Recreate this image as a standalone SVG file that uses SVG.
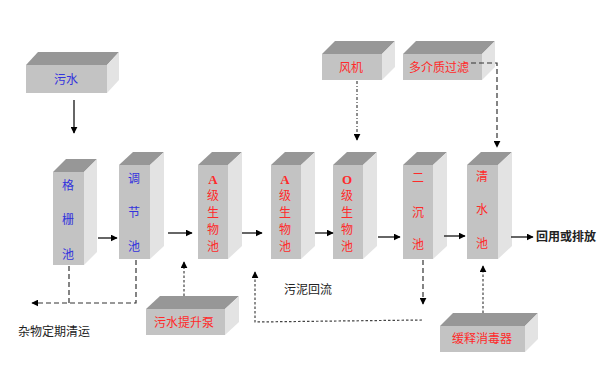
<svg xmlns="http://www.w3.org/2000/svg" width="600" height="379" viewBox="0 0 600 379">
<defs>
<marker id="ah" viewBox="0 0 10 10" refX="9" refY="5" markerWidth="7" markerHeight="7" markerUnits="userSpaceOnUse" orient="auto">
<path d="M0,0 L10,5 L0,10 Z" fill="#000"/>
</marker>
<style>
.fr{fill:#c3c3c3}
.tp{fill:#979797}
.sd{fill:#e3e3e3}
.t{font-family:"Noto Sans CJK SC","Noto Sans",sans-serif;font-size:12px;text-anchor:middle}
.b{fill:#3333dd}
.r{fill:#ff2a2a}
.k{fill:#222}
.lat{font-family:"Liberation Serif",serif;font-weight:bold;font-size:13px}
.sol{stroke:#333;stroke-width:1.5;fill:none}
.dsh{stroke:#333;stroke-width:1.2;fill:none;stroke-dasharray:5,3}
.dot{stroke:#444;stroke-width:1.2;fill:none;stroke-dasharray:2.5,2}
.dd{stroke:#444;stroke-width:1.2;fill:none;stroke-dasharray:3,2,1,2}
</style>
</defs>
<rect width="600" height="379" fill="#fff"/>

<g id="n-wushui">
<polygon class="tp" points="26,65 38,52 119,52 107,65"/>
<polygon class="sd" points="107,65 119,52 119,80 107,93"/>
<rect class="fr" x="26" y="65" width="81" height="28"/>
<text class="t b" x="66" y="84">污水</text>
</g>

<g id="n-fengji">
<polygon class="tp" points="322,54 335,41 395,41 382,54"/>
<polygon class="sd" points="382,54 395,41 395,67 382,80"/>
<rect class="fr" x="322" y="54" width="60" height="26"/>
<text class="t r" x="351" y="72">风机</text>
</g>

<g id="n-filter">
<polygon class="tp" points="403,54 416,41 495,41 482,54"/>
<polygon class="sd" points="482,54 495,41 495,67 482,80"/>
<rect class="fr" x="403" y="54" width="79" height="26"/>
<text class="t r" x="439" y="72">多介质过滤</text>
</g>

<g id="n-geshan">
<polygon class="tp" points="53,172 66,159 97,159 84,172"/>
<polygon class="sd" points="84,172 97,159 97,252 84,265"/>
<rect class="fr" x="53" y="172" width="31" height="93"/>
<text class="t b" x="68" y="190">格</text>
<text class="t b" x="68" y="224">栅</text>
<text class="t b" x="68" y="259">池</text>
</g>

<g id="n-tiaojie">
<polygon class="tp" points="119,165 133,152 164,152 150,165"/>
<polygon class="sd" points="150,165 164,152 164,246 150,259"/>
<rect class="fr" x="119" y="165" width="31" height="94"/>
<text class="t b" x="134" y="183">调</text>
<text class="t b" x="134" y="217">节</text>
<text class="t b" x="134" y="251">池</text>
</g>

<g id="n-a1">
<polygon class="tp" points="198,165 212,152 242,152 228,165"/>
<polygon class="sd" points="228,165 242,152 242,246 228,259"/>
<rect class="fr" x="198" y="165" width="30" height="94"/>
<text class="t r lat" x="213" y="184">A</text>
<text class="t r" x="213" y="200">级</text>
<text class="t r" x="213" y="217">生</text>
<text class="t r" x="213" y="234">物</text>
<text class="t r" x="213" y="251">池</text>
</g>

<g id="n-a2">
<polygon class="tp" points="271,165 285,152 315,152 301,165"/>
<polygon class="sd" points="301,165 315,152 315,246 301,259"/>
<rect class="fr" x="271" y="165" width="30" height="94"/>
<text class="t r lat" x="285" y="184">A</text>
<text class="t r" x="285" y="200">级</text>
<text class="t r" x="285" y="217">生</text>
<text class="t r" x="285" y="234">物</text>
<text class="t r" x="285" y="251">池</text>
</g>

<g id="n-o">
<polygon class="tp" points="333,165 347,152 377,152 363,165"/>
<polygon class="sd" points="363,165 377,152 377,246 363,259"/>
<rect class="fr" x="333" y="165" width="30" height="94"/>
<text class="t r lat" x="347" y="184">O</text>
<text class="t r" x="347" y="200">级</text>
<text class="t r" x="347" y="217">生</text>
<text class="t r" x="347" y="234">物</text>
<text class="t r" x="347" y="251">池</text>
</g>

<g id="n-erchen">
<polygon class="tp" points="403,165 417,152 447,152 433,165"/>
<polygon class="sd" points="433,165 447,152 447,246 433,259"/>
<rect class="fr" x="403" y="165" width="30" height="94"/>
<text class="t r" x="418" y="182">二</text>
<text class="t r" x="418" y="217">沉</text>
<text class="t r" x="418" y="249">池</text>
</g>

<g id="n-qingshui">
<polygon class="tp" points="467,165 481,152 512,152 498,165"/>
<polygon class="sd" points="498,165 512,152 512,246 498,259"/>
<rect class="fr" x="467" y="165" width="31" height="94"/>
<text class="t r" x="482" y="181">清</text>
<text class="t r" x="482" y="214">水</text>
<text class="t r" x="482" y="248">池</text>
</g>

<g id="n-pump">
<polygon class="tp" points="146,309 160,296 239,296 225,309"/>
<polygon class="sd" points="225,309 239,296 239,322 225,335"/>
<rect class="fr" x="146" y="309" width="79" height="26"/>
<text class="t r" x="184" y="327">污水提升泵</text>
</g>

<g id="n-disinfect">
<polygon class="tp" points="440,326 453,313 538,313 525,326"/>
<polygon class="sd" points="525,326 538,313 538,339 525,352"/>
<rect class="fr" x="440" y="326" width="85" height="26"/>
<text class="t r" x="482" y="343">缓释消毒器</text>
</g>

<g id="labels">
<text class="t k" x="566" y="241" style="font-weight:bold">回用或排放</text>
<text class="t k" x="54" y="336">杂物定期清运</text>
<text class="t k" x="308" y="294">污泥回流</text>
</g>

<g id="connectors">
<line class="sol" x1="74" y1="100" x2="74" y2="133" marker-end="url(#ah)"/>
<line class="sol" x1="98" y1="238" x2="117" y2="238" marker-end="url(#ah)"/>
<line class="sol" x1="168" y1="233" x2="192" y2="233" marker-end="url(#ah)"/>
<line class="sol" x1="242" y1="233" x2="262" y2="233" marker-end="url(#ah)"/>
<line class="sol" x1="315" y1="233" x2="333" y2="233" marker-end="url(#ah)"/>
<line class="sol" x1="378" y1="237" x2="400" y2="237" marker-end="url(#ah)"/>
<line class="sol" x1="444" y1="236" x2="465" y2="236" marker-end="url(#ah)"/>
<line class="sol" x1="511" y1="237" x2="533" y2="237" marker-end="url(#ah)"/>
<line class="dd" x1="357" y1="81" x2="357" y2="140" marker-end="url(#ah)"/>
<polyline class="dsh" points="471,63 497,63 497,147" marker-end="url(#ah)"/>
<polyline class="dsh" points="69,266 69,303"/>
<polyline class="dsh" points="136,260 136,303 32,303" marker-end="url(#ah)"/>
<line class="dot" x1="184" y1="296" x2="184" y2="262" marker-end="url(#ah)"/>
<line class="dsh" x1="423" y1="260" x2="423" y2="304" marker-end="url(#ah)"/>
<polyline class="dot" points="422,320 255,322 255,272" marker-end="url(#ah)"/>
<line class="dot" x1="483" y1="313" x2="483" y2="266" marker-end="url(#ah)"/>
</g>
</svg>
